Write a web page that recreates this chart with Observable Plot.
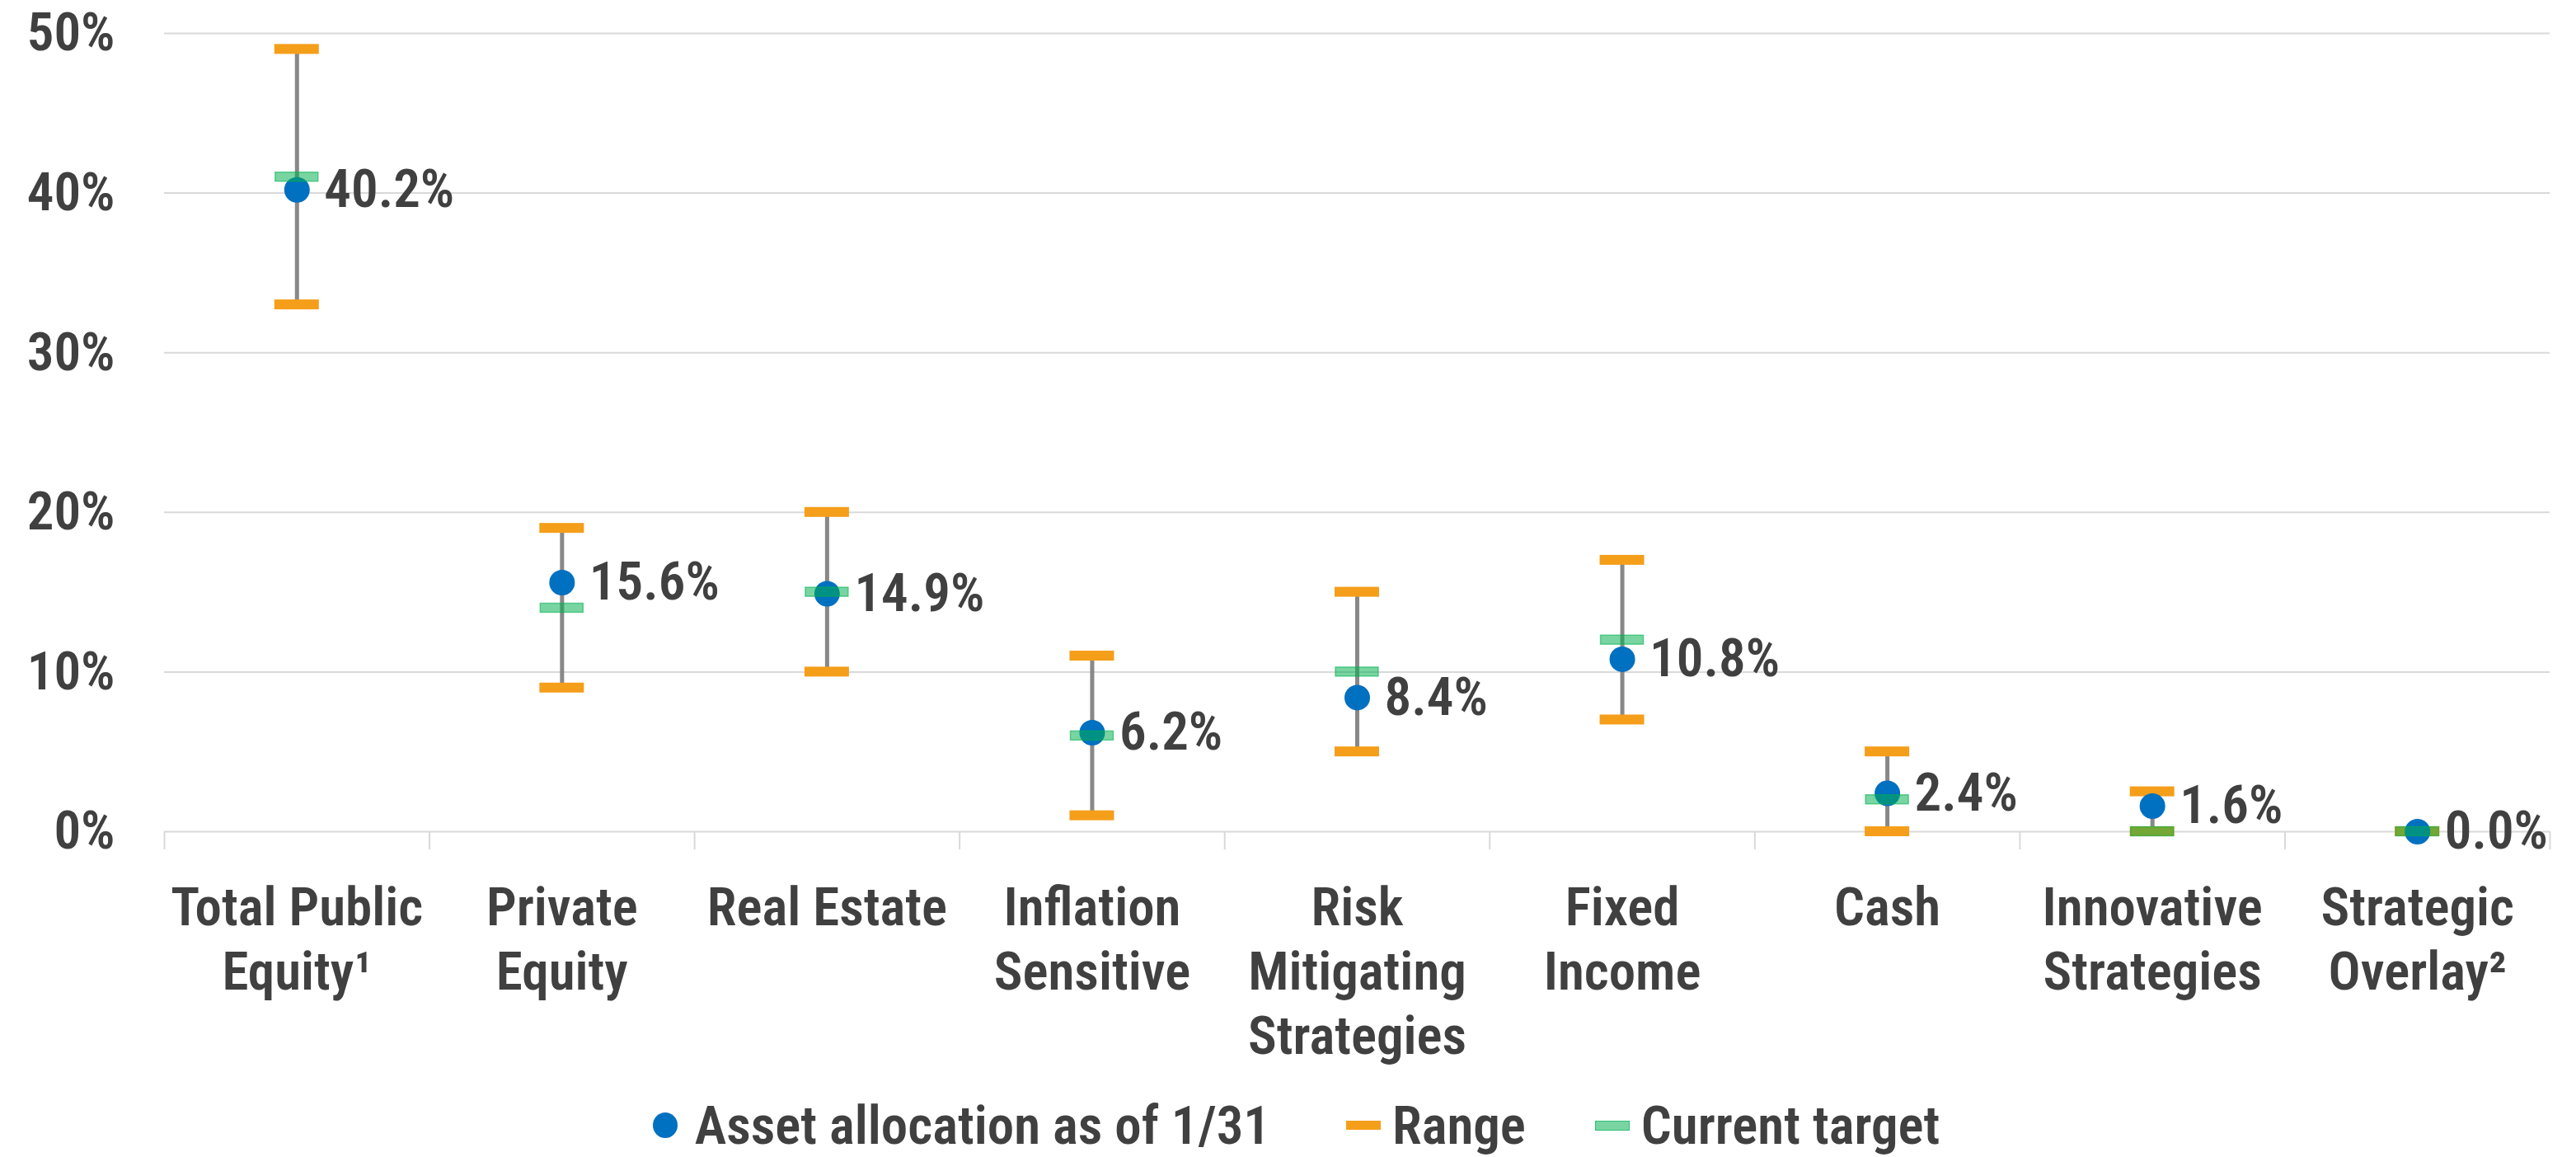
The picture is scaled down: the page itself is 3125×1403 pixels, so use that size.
<!DOCTYPE html>
<html>
<head>
<meta charset="utf-8">
<script src="https://cdn.jsdelivr.net/npm/d3@7"></script>
<script src="https://cdn.jsdelivr.net/npm/@observablehq/plot@0.6"></script>
<style>
  html, body { margin: 0; padding: 0; background: #fff; }
  body { width: 3125px; height: 1403px; overflow: hidden; font-family: Roboto, "Open Sans", sans-serif; font-stretch: 75%; font-weight: 600; color: #404040; }
  #legend { height: 103px; display: flex; justify-content: center; align-items: center; padding-top: 26px; padding-left: 20px; box-sizing: border-box; font-size: 65px; }
  .item { display: flex; align-items: center; }
  .sw { display: inline-block; }
  svg text { font-stretch: 75%; }
</style>
</head>
<body>
<div id="chart"></div>
<div id="legend">
  <div class="item" style="margin-right:92px"><span class="sw" style="width:30px;height:31px;border-radius:50%;background:#0070C0;margin-right:21px"></span><span>Asset allocation as of 1/31</span></div>
  <div class="item" style="margin-right:84px"><span class="sw" style="width:42px;height:11px;background:#F59E1A;margin-right:14px"></span><span>Range</span></div>
  <div class="item"><span class="sw" style="width:40px;height:10px;background:rgba(0,176,80,0.53);border:1px solid rgba(0,176,80,0.6);margin-right:14px"></span><span>Current target</span></div>
</div>
<script>
const categories = ["Total Public\nEquity¹", "Private\nEquity", "Real Estate", "Inflation\nSensitive", "Risk\nMitigating\nStrategies", "Fixed\nIncome", "Cash", "Innovative\nStrategies", "Strategic\nOverlay²"];
const actual = [40.2, 15.6, 14.9, 6.2, 8.4, 10.8, 2.4, 1.6, 0.0];
const target = [41, 14, 15, 6, 10, 12, 2, 0, 0];
const rangeLow = [33, 9, 10, 1, 5, 7, 0, 0, 0];
const rangeHigh = [49, 19, 20, 11, 15, 17, 5, 2.5, 0];
const yTicks = [0, 10, 20, 30, 40, 50];

const data = categories.map((c, i) => ({c, x: i + 0.5, actual: actual[i], target: target[i], lo: rangeLow[i], hi: rangeHigh[i]}));
const caps = data.flatMap(d => [{x: d.x, y: d.lo}, {x: d.x, y: d.hi}]);
const edges = d3.range(categories.length + 1);

const FONT = "65px";
const chart = Plot.plot({
  width: 3125,
  height: 1300,
  marginLeft: 199,
  marginRight: 32,
  marginTop: 40,
  marginBottom: 292,
  x: {domain: [0, categories.length], axis: null, label: null},
  y: {domain: [0, 50], axis: null, label: null},
  style: {fontFamily: 'Roboto, "Open Sans", sans-serif', fontWeight: "600", color: "#404040", background: "white"},
  marks: [
    Plot.gridY(yTicks.slice(1), {stroke: "#d9d9d9", strokeOpacity: 1, strokeWidth: 2}),
    Plot.axisX(edges, {tickSize: 22, stroke: "#d9d9d9", strokeWidth: 2, strokeOpacity: 1, tickFormat: () => "", label: null}),
    Plot.ruleY([0], {stroke: "#d9d9d9", strokeWidth: 2}),
    Plot.axisY(yTicks, {tickSize: 0, tickPadding: 60, tickFormat: d => d + "%", fontSize: FONT, fill: "#404040", label: null}),
    Plot.ruleX(data, {x: "x", y1: "lo", y2: "hi", stroke: "#888888", strokeWidth: 5}),
    Plot.rect(caps, {x1: "x", x2: "x", y1: "y", y2: "y", insetLeft: -27, insetRight: -27, insetTop: -6, insetBottom: -6, fill: "#F59E1A"}),
    Plot.dot(data, {x: "x", y: "actual", r: 15.5, fill: "#0070C0"}),
    Plot.rect(data, {x1: "x", x2: "x", y1: "target", y2: "target", insetLeft: -26, insetRight: -26, insetTop: -5.5, insetBottom: -5.5, fill: "#00b050", fillOpacity: 0.53, stroke: "#00b050", strokeOpacity: 0.55, strokeWidth: 1.5}),
    Plot.text(data, {x: "x", y: "actual", text: d => d.actual.toFixed(1) + "%", dx: 33, textAnchor: "start", fontSize: FONT, fill: "#404040"}),
    Plot.text(data, {x: "x", text: "c", frameAnchor: "bottom", lineAnchor: "top", dy: 58, fontSize: FONT, lineHeight: 1.2, fill: "#404040"})
  ]
});
document.getElementById("chart").appendChild(chart);
</script>
</body>
</html>
